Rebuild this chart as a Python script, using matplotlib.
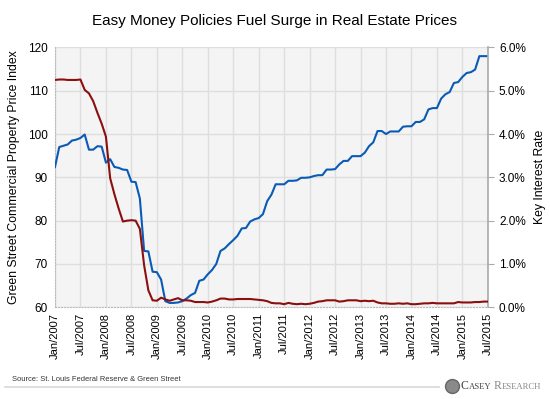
import matplotlib.pyplot as plt

plt.rcParams['font.family'] = ['Liberation Sans', 'DejaVu Sans']

# monthly values, Jan 2007 .. Jul 2015
price_index = [
    92.4, 97.0, 97.3, 97.6, 98.5, 98.7, 99.1, 99.9, 96.4, 96.4, 97.2, 97.1,
    93.4, 94.2, 92.4, 92.2, 91.8, 91.7, 89.0, 88.9, 85.1, 73.0, 72.9, 68.2,
    68.1, 66.4, 61.4, 61.0, 61.0, 61.1, 61.4, 62.0, 62.8, 63.3, 66.1, 66.4,
    67.6, 68.6, 70.0, 73.0, 73.6, 74.6, 75.5, 76.5, 78.2, 78.3, 79.8, 80.3,
    80.6, 81.5, 84.5, 86.0, 88.4, 88.4, 88.4, 89.2, 89.2, 89.3, 89.9, 89.9,
    90.0, 90.3, 90.5, 90.5, 91.8, 91.8, 91.9, 93.0, 93.8, 93.8, 94.9, 94.9,
    94.9, 95.7, 97.2, 98.1, 100.7, 100.7, 100.0, 100.6, 100.6, 100.6, 101.7, 101.8,
    101.8, 102.8, 102.8, 103.4, 105.7, 106.0, 106.0, 108.2, 109.2, 109.7, 111.8, 112.0,
    113.2, 114.1, 114.3, 114.9, 118.0, 118.0, 118.0,
]

interest_rate = [
    5.25, 5.26, 5.26, 5.25, 5.25, 5.25, 5.26, 5.02, 4.94, 4.76, 4.49, 4.24,
    3.94, 2.98, 2.61, 2.28, 1.98, 2.00, 2.01, 2.00, 1.81, 0.97, 0.39, 0.16,
    0.15, 0.22, 0.18, 0.15, 0.18, 0.21, 0.16, 0.16, 0.15, 0.12, 0.12, 0.12,
    0.11, 0.13, 0.16, 0.20, 0.20, 0.18, 0.18, 0.19, 0.19, 0.19, 0.19, 0.18,
    0.17, 0.16, 0.14, 0.10, 0.09, 0.09, 0.07, 0.10, 0.08, 0.07, 0.08, 0.07,
    0.08, 0.10, 0.13, 0.14, 0.16, 0.16, 0.16, 0.13, 0.14, 0.16, 0.16, 0.16,
    0.14, 0.15, 0.14, 0.15, 0.11, 0.09, 0.09, 0.08, 0.08, 0.09, 0.08, 0.09,
    0.07, 0.07, 0.08, 0.09, 0.09, 0.10, 0.09, 0.09, 0.09, 0.09, 0.09, 0.12,
    0.11, 0.11, 0.11, 0.12, 0.12, 0.13, 0.13,
]

tick_labels = [f'{m}/{y}' for y in range(2007, 2016) for m in ('Jan', 'Jul')]

months = list(range(len(price_index)))

fig = plt.figure(figsize=(5.5, 3.99), dpi=100)
ax = fig.add_axes([0.1, 0.23, 0.787, 0.651])
ax.set_facecolor('#f4f4f4')
ax2 = ax.twinx()

ax.plot(months, price_index, color='#0a5bb5', lw=1.5, zorder=3)
ax2.plot(months, interest_rate, color='#8c0f0f', lw=1.5, zorder=3)

ax.set_xlim(0, len(months) - 1)
ax.set_ylim(60, 120)
ax2.set_ylim(0, 6)
ax.set_yticks(range(60, 121, 10))
ax2.set_yticks(range(0, 7))
ax2.set_yticklabels([f'{v:.1f}%' for v in range(0, 7)])
ax.set_xticks(range(0, len(months), 6))
ax.set_xticklabels(tick_labels, rotation=90)

ax.grid(True, color='#dedede', lw=1)
ax.set_axisbelow(True)

for s in ('top', 'right'):
    ax.spines[s].set_visible(False)
for s in ('left', 'bottom'):
    ax.spines[s].set_color('#bbbbbb')
    ax.spines[s].set_linestyle(':')
for s in ('top', 'left', 'bottom'):
    ax2.spines[s].set_visible(False)
ax2.spines['right'].set_color('#aaaaaa')
ax2.spines['right'].set_linewidth(1.2)

ax.tick_params(axis='x', length=0, labelsize=8, pad=4)
ax.tick_params(axis='y', length=0, labelsize=8.5, pad=5)
ax2.tick_params(axis='y', length=4, color='#aaaaaa', labelsize=8.5, pad=4)

ax.set_ylabel('Green Street Commercial Property Price Index', fontsize=8.8, labelpad=6)
ax2.set_ylabel('Key Interest Rate', fontsize=8.8, labelpad=6)

fig.text(0.5, 0.948, 'Easy Money Policies Fuel Surge in Real Estate Prices',
         ha='center', va='center', fontsize=11)
fig.text(0.022, 0.05, 'Source: St. Louis Federal Reserve & Green Street',
         ha='left', va='center', fontsize=5.4, color='#333333')
fig.add_artist(plt.Line2D([0.009, 0.798], [0.03, 0.03], color='#d8d8d8', lw=1.2))

# logo
fig.add_artist(plt.Line2D([0.822], [0.033], marker='o', markersize=10,
                          color='#8a8a8a', markeredgecolor='#666666'))
renderer = fig.canvas.get_renderer()
x = 0.838
for part, size, col in [('C', 8.5, '#444444'), ('ASEY', 6.2, '#444444'),
                        ('R', 8.5, '#888888'), ('ESEARCH', 6.2, '#888888')]:
    t = fig.text(x, 0.026, part, ha='left', va='baseline', fontsize=size,
                 family='Liberation Serif', color=col)
    w = t.get_window_extent(renderer).width / fig.bbox.width
    x += w + (0.004 if part == 'ASEY' else 0)

fig.savefig('out.png', dpi=100)
